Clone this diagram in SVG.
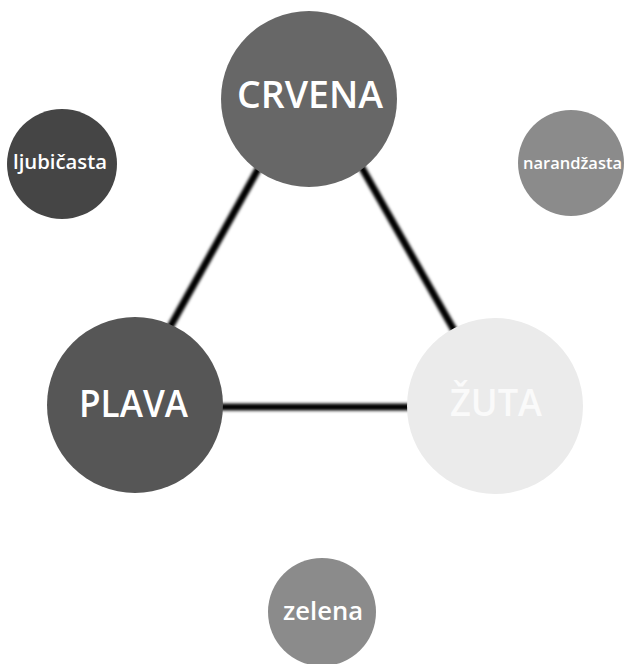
<svg xmlns="http://www.w3.org/2000/svg" width="624" height="664" viewBox="0 0 624 664">
<defs>
<style>
text{font-family:"Open Sans","Noto Sans","Liberation Sans",sans-serif;font-weight:600;fill:#fff;text-anchor:middle}
.conn{stroke:#000;stroke-width:7;fill:none;filter:url(#blur)}
</style>
<filter id="blur" filterUnits="userSpaceOnUse" x="0" y="0" width="624" height="664"><feGaussianBlur stdDeviation="1.7"/></filter>
</defs>
<rect width="624" height="664" fill="#fff"/>
<g id="connectors">
<line class="conn" x1="275" y1="139" x2="155" y2="354"/>
<line class="conn" x1="345" y1="138" x2="471" y2="360"/>
<line class="conn" x1="200" y1="407" x2="430" y2="407"/>
</g>
<g id="crvena"><circle cx="309" cy="99" r="88" fill="#676767"/><text x="310" y="108" font-size="37" textLength="146" lengthAdjust="spacingAndGlyphs">CRVENA</text></g>
<g id="ljubicasta"><circle cx="62" cy="164" r="55" fill="#454545"/><text x="60" y="169" font-size="20" textLength="94" lengthAdjust="spacingAndGlyphs">ljubičasta</text></g>
<g id="narandzasta"><circle cx="571" cy="163" r="53" fill="#8b8b8b"/><text x="572.5" y="169" font-size="17" textLength="99" lengthAdjust="spacingAndGlyphs">narandžasta</text></g>
<g id="plava"><circle cx="135" cy="405" r="88" fill="#565656"/><text x="133.5" y="417" font-size="37" textLength="109" lengthAdjust="spacingAndGlyphs">PLAVA</text></g>
<g id="zuta"><circle cx="495" cy="406" r="88" fill="#ebebeb"/><text x="496" y="416" font-size="37" textLength="92" lengthAdjust="spacingAndGlyphs" style="fill:#fafafa">ŽUTA</text></g>
<g id="zelena"><circle cx="322" cy="612" r="54" fill="#8b8b8b"/><text x="323" y="620" font-size="25" textLength="80" lengthAdjust="spacingAndGlyphs">zelena</text></g>
</svg>
